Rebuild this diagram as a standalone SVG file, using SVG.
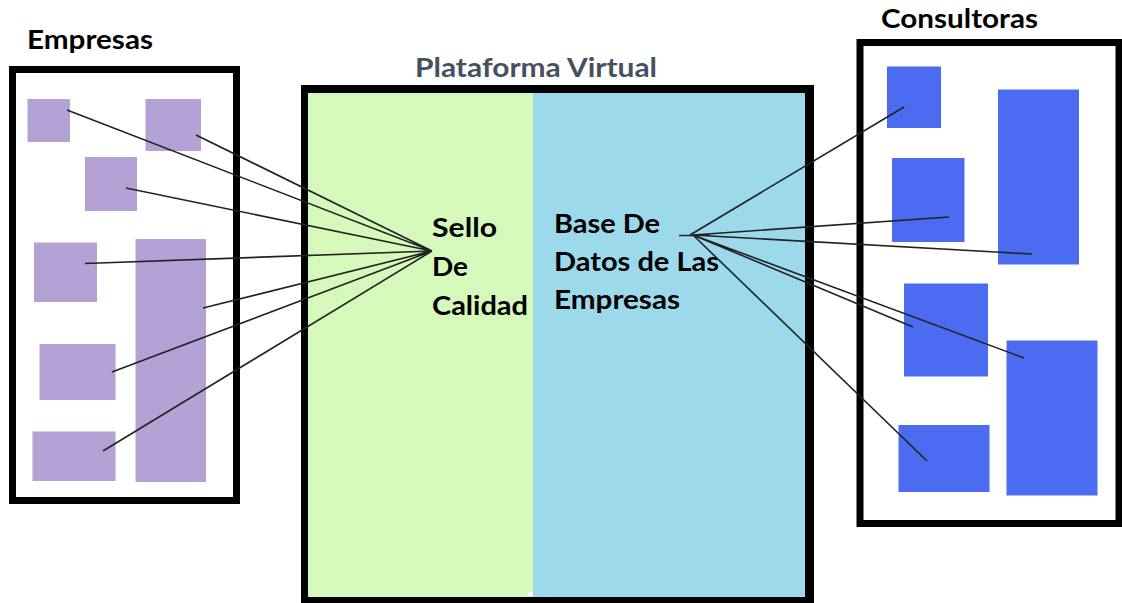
<svg xmlns="http://www.w3.org/2000/svg" width="1122" height="603" viewBox="0 0 1122 603">
<style>
.frame{fill:#fff;stroke:#000;stroke-width:7}
.p{fill:#b3a2d3}
.b{fill:#4b6cf1}
.l{fill:none;stroke:#222;stroke-width:1.6}
text{font-family:"Lato","Liberation Sans",sans-serif;font-weight:700;fill:#000;font-size:26px}
</style>
<rect width="1122" height="603" fill="#fff"/>
<g id="empresas">
<rect class="frame" x="12.500" y="69.500" width="224" height="431"/>
<text x="27" y="49" textLength="126" lengthAdjust="spacingAndGlyphs">Empresas</text>
<rect class="p" x="27.500" y="99" width="42.500" height="43"/>
<rect class="p" x="145.500" y="99" width="55.500" height="52"/>
<rect class="p" x="85" y="157" width="52" height="54"/>
<rect class="p" x="34" y="242.500" width="63" height="59.500"/>
<rect class="p" x="135.500" y="239" width="70.500" height="243"/>
<rect class="p" x="39.500" y="344" width="76" height="56"/>
<rect class="p" x="32.500" y="431.500" width="83" height="49.500"/>
</g>
<g id="plataforma">
<rect x="301" y="85" width="513" height="518" fill="#000"/>
<rect x="308" y="93" width="225" height="504" fill="#d5f9bb"/>
<rect x="533" y="93" width="272" height="504" fill="#9bd9eb"/>
<rect x="528" y="592" width="5" height="4" fill="#fff"/>
<text x="415" y="77" textLength="242" lengthAdjust="spacingAndGlyphs" style="fill:#47505f">Plataforma Virtual</text>
</g>
<g id="sello">
<text x="432" y="237" textLength="65" lengthAdjust="spacingAndGlyphs">Sello</text>
<text x="432" y="276" textLength="36" lengthAdjust="spacingAndGlyphs">De</text>
<text x="432" y="315" textLength="96" lengthAdjust="spacingAndGlyphs">Calidad</text>
</g>
<g id="base">
<text x="554" y="233" textLength="106" lengthAdjust="spacingAndGlyphs">Base De</text>
<text x="554" y="271" textLength="165" lengthAdjust="spacingAndGlyphs">Datos de Las</text>
<text x="554" y="309" textLength="126" lengthAdjust="spacingAndGlyphs">Empresas</text>
</g>
<g id="consultoras">
<rect class="frame" x="860" y="42.500" width="259" height="481"/>
<text x="881" y="28" textLength="157" lengthAdjust="spacingAndGlyphs">Consultoras</text>
<rect class="b" x="887" y="66.500" width="54" height="61.500"/>
<rect class="b" x="892" y="158" width="72.500" height="84"/>
<rect class="b" x="998" y="89.500" width="81" height="175"/>
<rect class="b" x="904" y="283.500" width="84" height="93"/>
<rect class="b" x="1006.500" y="340.500" width="91" height="155"/>
<rect class="b" x="898.500" y="425" width="91" height="67"/>
</g>
<g id="connectors">
<path class="l" d="M67 110L432 251M196 135L432 251M126 188L432 251M85 263.500L432 251M203 308L432 251M112 372L432 251M103 451L432 251"/>
<path class="l" d="M679 235.500H710M690 235L904 107M693 235L949 217M693 235L1032 254M693 235L913 327M693 235L1024 358M693 235L927 461"/>
</g>
</svg>
